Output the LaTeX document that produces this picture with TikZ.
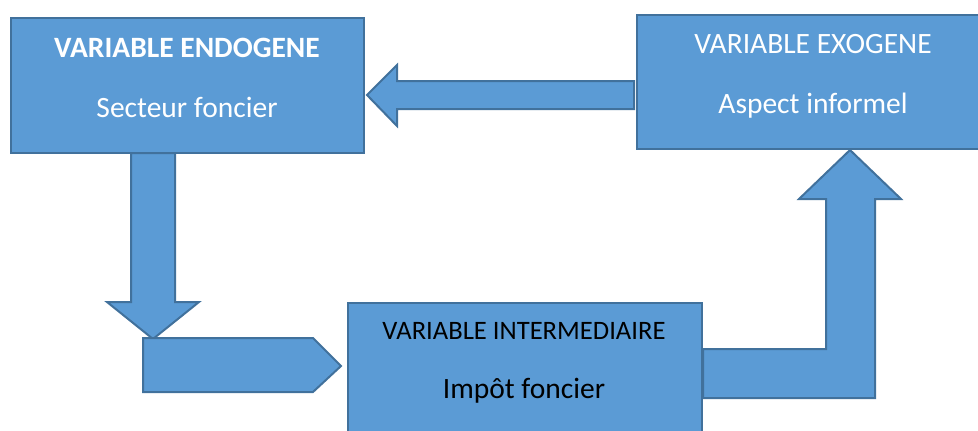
\documentclass[tikz,border=0pt]{standalone}
\usepackage{fontspec}
\setmainfont{Carlito}
\definecolor{boxfill}{HTML}{5B9BD5}
\definecolor{boxline}{HTML}{41719C}
\begin{document}
\begin{tikzpicture}[x=1pt,y=-1pt,
  blk/.style={fill=boxfill,draw=boxline,line width=2pt,line join=miter},
  vbox/.style={blk,rectangle,inner sep=0pt,anchor=north west},
  big/.style={font=\fontsize{29.5}{31}\selectfont,anchor=base,inner sep=0pt},
  mid/.style={font=\fontsize{26.6}{28}\selectfont,anchor=base,inner sep=0pt}]
\clip (0,0) rectangle (978,431);
\fill[white] (0,0) rectangle (978,431);
% boxes
\node[vbox,minimum width=353pt,minimum height=135pt] (endo) at (10,17) {};
\node[vbox,minimum width=354pt,minimum height=134pt] (exo) at (636,14) {};
\node[vbox,minimum width=354pt,minimum height=140pt] (inter) at (347,302) {};
% arrows
\draw[blk] (367,95) -- (397,65) -- (397,81) -- (634,81) -- (634,109) -- (397,109) -- (397,126) -- cycle;
\draw[blk] (131,153) -- (175,153) -- (175,302) -- (199,302) -- (153,339) -- (107,302) -- (131,302) -- cycle;
\draw[blk] (143,338) -- (313,338) -- (341,366) -- (313,392) -- (143,392) -- cycle;
\draw[blk] (703,349) -- (826,349) -- (826,199) -- (799,199) -- (850,150) -- (901,199) -- (875,199) -- (875,398) -- (703,398) -- cycle;
% texts
\node[big,text=white,font=\fontsize{29.5}{31}\selectfont\bfseries] (t1) at (187,57) {VARIABLE ENDOGENE};
\node[big,text=white] (t2) at (187,117) {Secteur foncier};
\node[big,text=white] (t3) at (813,53) {VARIABLE EXOGENE};
\node[big,text=white] (t4) at (813,113) {Aspect informel};
\node[mid,text=black] (t5) at (524,339) {VARIABLE INTERMEDIAIRE};
\node[big,text=black] (t6) at (524,398) {Impôt foncier};
\end{tikzpicture}
\end{document}
